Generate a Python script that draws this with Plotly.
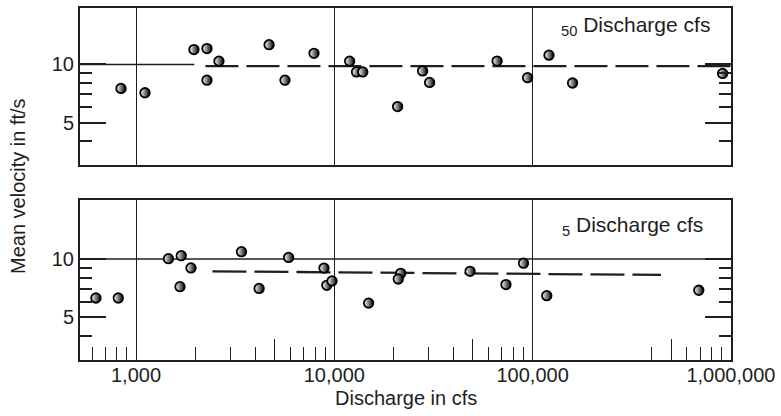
import math
import plotly.graph_objects as go

# ---- data ----
top_q = [840, 1110, 1960, 2280, 2620, 2280, 4690, 5640, 7900, 11950,
         12940, 13920, 20860, 27880, 30240, 66220, 94360, 120950, 159100, 908300]
top_v = [7.52, 7.14, 11.95, 12.09, 10.41, 8.29, 12.67, 8.29, 11.42, 10.41,
         9.15, 9.15, 6.05, 9.26, 8.07, 10.42, 8.54, 11.18, 8.02, 8.99]

bot_q = [628, 814, 1458, 1692, 1894, 1667, 3404, 4177, 5883, 8872,
         9166, 9737, 14890, 21640, 21020, 48390, 73400, 89980, 117900, 688900]
bot_v = [6.28, 6.28, 10.04, 10.40, 8.99, 7.19, 10.91, 7.04, 10.19, 8.97,
         7.31, 7.70, 5.91, 8.43, 7.88, 8.63, 7.37, 9.51, 6.46, 6.89]

top_mean_q = [2240, 1000000]
top_mean_v = [9.81, 9.81]
bot_mean_q = [2430, 444000]
bot_mean_v = [8.63, 8.27]

top_ref_q = [515, 1970]
top_ref_v = [10, 10]
bot_ref_q = [515, 1000000]
bot_ref_v = [10, 10]

x_major = [1000, 10000, 100000, 1000000]
x_major_text = ["1,000", "10,000", "100,000", "1,000,000"]
x_minor = [600, 700, 800, 900, 2000, 3000, 4000, 6000, 7000, 8000, 9000,
           20000, 30000, 40000, 60000, 70000, 80000, 90000,
           400000, 600000, 700000, 800000, 900000]
x_mid = [5000, 50000, 500000]
y_major = [5, 10]
y_minor = [4, 6, 7, 8, 9]

INK = "#1e1e1e"
FONT = "Liberation Sans, Arial, sans-serif"

fig = go.Figure()

marker = dict(symbol="circle", size=9.5, color="white",
              gradient=dict(type="horizontal", color="black"),
              line=dict(color="black", width=1.8))

# reference lines at 10
fig.add_trace(go.Scatter(x=top_ref_q, y=top_ref_v, mode="lines",
                         line=dict(color=INK, width=1.3), xaxis="x", yaxis="y",
                         showlegend=False, hoverinfo="skip"))
fig.add_trace(go.Scatter(x=bot_ref_q, y=bot_ref_v, mode="lines",
                         line=dict(color=INK, width=1.3), xaxis="x2", yaxis="y2",
                         showlegend=False, hoverinfo="skip"))
# mean dashed lines
fig.add_trace(go.Scatter(x=top_mean_q, y=top_mean_v, mode="lines",
                         line=dict(color=INK, width=2.3, dash="33px,8px"),
                         xaxis="x", yaxis="y", showlegend=False))
fig.add_trace(go.Scatter(x=bot_mean_q, y=bot_mean_v, mode="lines",
                         line=dict(color=INK, width=2.3, dash="34px,8px"),
                         xaxis="x2", yaxis="y2", showlegend=False))
# points
fig.add_trace(go.Scatter(x=top_q, y=top_v, mode="markers", marker=marker,
                         xaxis="x", yaxis="y", showlegend=False))
fig.add_trace(go.Scatter(x=bot_q, y=bot_v, mode="markers", marker=marker,
                         xaxis="x2", yaxis="y2", showlegend=False))
# empty trace to activate overlay axis for the longer mid-decade ticks
fig.add_trace(go.Scatter(x=[], y=[], xaxis="x3", yaxis="y2", showlegend=False))

xr = [2.7176, 6.0005]
tickfont = dict(family=FONT, size=20, color=INK)

common_x = dict(type="log", range=xr, showline=True, linecolor=INK, linewidth=2,
                mirror=True, showgrid=True, gridcolor=INK, gridwidth=1.3,
                zeroline=False, tickfont=tickfont)

fig.update_layout(
    width=781, height=416,
    margin=dict(l=80, r=50, t=6, b=56),
    paper_bgcolor="white", plot_bgcolor="white",
    xaxis=dict(**common_x, anchor="y", tickvals=x_major[:3], ticks="",
               showticklabels=False),
    xaxis2=dict(**common_x, anchor="y2", tickvals=x_major, ticktext=x_major_text,
                ticks="", ticklabelstandoff=-4,
                minor=dict(tickmode="array", tickvals=x_minor, ticks="inside",
                           ticklen=13, tickwidth=1.3, tickcolor=INK, showgrid=False)),
    xaxis3=dict(type="log", range=xr, overlaying="x2", anchor="y2", side="bottom",
                tickvals=x_mid, ticks="inside", ticklen=21, tickwidth=1.3,
                tickcolor=INK, showticklabels=False, showgrid=False,
                showline=False, zeroline=False),
)

for name, dom, rng in [("yaxis", [0.5528, 1.0], [math.log10(3), 1.2927]),
                       ("yaxis2", [0.0, 0.454], [math.log10(3), 1.3044])]:
    fig.layout[name] = dict(
        type="log", domain=dom, range=rng, anchor="x" if name == "yaxis" else "x2",
        tickvals=y_major, ticktext=[str(v) for v in y_major],
        ticks="inside", ticklen=26, tickwidth=1.5, tickcolor=INK,
        showline=True, linecolor=INK, linewidth=2, mirror="ticks",
        showgrid=False, zeroline=False, tickfont=tickfont, ticklabelstandoff=0,
        minor=dict(tickmode="array", tickvals=y_minor, ticks="inside",
                   ticklen=12, tickwidth=1.5, tickcolor=INK, showgrid=False),
    )

fig.add_annotation(text="<sub>50</sub> Discharge cfs", xref="paper", yref="paper",
                   x=0.971, y=0.949, xanchor="right", yanchor="middle",
                   showarrow=False, font=dict(family=FONT, size=21, color=INK))
fig.add_annotation(text="<sub>5</sub> Discharge cfs", xref="paper", yref="paper",
                   x=0.960, y=0.381, xanchor="right", yanchor="middle",
                   showarrow=False, font=dict(family=FONT, size=21, color=INK))
fig.add_annotation(text="Discharge in cfs", xref="paper", yref="paper",
                   x=0.5015, y=-0.108, xanchor="center", yanchor="middle",
                   showarrow=False, font=dict(family=FONT, size=20, color=INK))
fig.add_annotation(text="Mean velocity in ft/s", xref="paper", yref="paper",
                   x=-0.0954, y=0.494, xanchor="center", yanchor="middle",
                   textangle=-90, showarrow=False,
                   font=dict(family=FONT, size=20, color=INK))

fig.write_html("out.html",
               config={"displayModeBar": False},
               post_script="document.body.style.margin='0';"
                           "document.body.style.overflow='hidden';")
